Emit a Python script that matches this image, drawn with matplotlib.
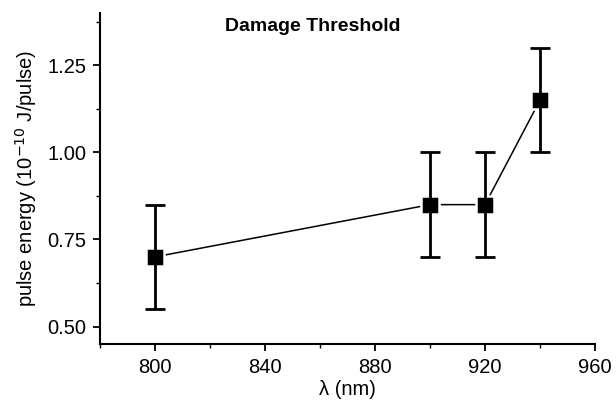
import matplotlib
matplotlib.use("Agg")
import matplotlib.pyplot as plt
from matplotlib.ticker import MultipleLocator

wavelength = [800, 900, 920, 940]
energy = [0.70, 0.85, 0.85, 1.15]
err = [0.15, 0.15, 0.15, 0.15]
xticks = [800, 840, 880, 920, 960]
yticks = [0.50, 0.75, 1.00, 1.25]

plt.rcParams['font.family'] = ['Liberation Sans', 'DejaVu Sans']

fig = plt.figure(figsize=(6.16, 4.07), dpi=100)
ax = fig.add_axes([100/616, 1-344/407, 495/616, 331/407])

ax.plot(wavelength, energy, color='black', lw=1.1, zorder=2)
ax.plot(wavelength, energy, 's', color='black', ms=13, mec='white', mew=1.8, zorder=3)
ax.errorbar(wavelength, energy, yerr=err, fmt='none', ecolor='black',
            elinewidth=2.0, capsize=7, capthick=2.0, zorder=4)

ax.set_xlim(780, 960)
ax.set_ylim(0.45, 1.40)
ax.set_xticks(xticks)
ax.set_yticks(yticks)
ax.set_yticklabels([f"{v:.2f}" for v in yticks])
ax.xaxis.set_minor_locator(MultipleLocator(20))
ax.yaxis.set_minor_locator(MultipleLocator(0.125))

for s in ['top', 'right']:
    ax.spines[s].set_visible(False)
for s in ['left', 'bottom']:
    ax.spines[s].set_linewidth(1.5)

ax.tick_params(which='major', direction='out', length=5, width=1.3, labelsize=14.5, pad=5)
ax.tick_params(which='minor', direction='out', length=3, width=1.0)

ax.set_xlabel('λ (nm)', fontsize=14.5, labelpad=2)
ax.set_ylabel('pulse energy (10$^{\\mathrm{-10}}$ J/pulse)', fontsize=14.5, labelpad=6)
ax.text((312.5 - 100) / 495, 0.958, 'Damage Threshold', transform=ax.transAxes, ha='center',
        va='center', fontsize=14, fontweight='bold')

fig.savefig('out.png', dpi=100)
